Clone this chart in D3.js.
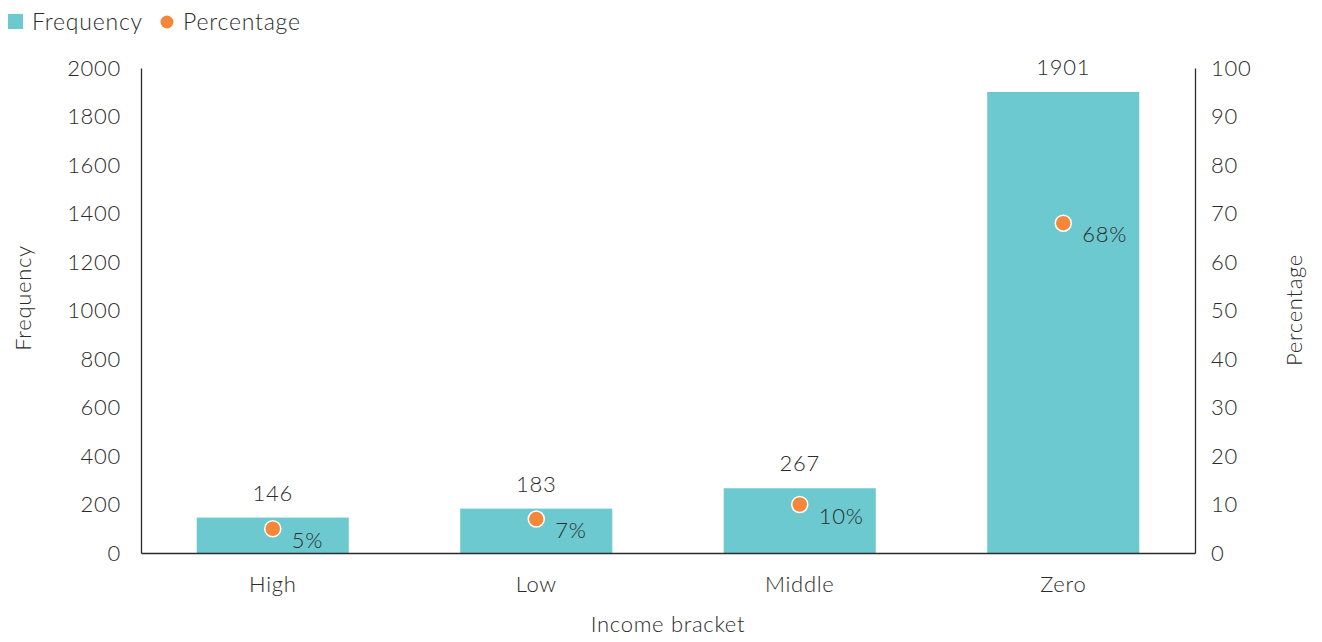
<!DOCTYPE html>
<html>
<head>
<meta charset="utf-8">
<script src="https://cdn.jsdelivr.net/npm/d3@7"></script>
<style>
  html, body { margin: 0; padding: 0; background: #fff; }
  svg text { font-family: Lato, "Open Sans", sans-serif; fill: #2b2b2b; font-weight: 300; letter-spacing: 0.7px; font-size: 22px; }
  svg .legend text { font-size: 23px; letter-spacing: 0.8px; }
</style>
</head>
<body>
<svg id="chart" width="1322" height="642"></svg>
<script>
// Income bracket breakdown: counts (bars, left axis) and share (dots, right axis)
const categories = ["High", "Low", "Middle", "Zero"];
const frequency = [146, 183, 267, 1901];
const percentage = [5, 7, 10, 68];
const freqTicks = [0, 200, 400, 600, 800, 1000, 1200, 1400, 1600, 1800, 2000];
const pctTicks = [0, 10, 20, 30, 40, 50, 60, 70, 80, 90, 100];

const BAR = "#6bc9cf";
const DOT = "#f5873a";
const INK = "#2b2b2b";

const svg = d3.select("#chart");
const plot = { left: 141, right: 1195, top: 68, bottom: 553 };

const x = d3.scaleBand().domain(categories).range([plot.left, plot.right])
  .paddingInner(0.423).paddingOuter(0.2115);
const yL = d3.scaleLinear().domain([0, 2000]).range([plot.bottom, plot.top]);
const yR = d3.scaleLinear().domain([0, 100]).range([plot.bottom, plot.top]);

const rows = categories.map((c, i) => ({ c, f: frequency[i], p: percentage[i] }));

// Bars
svg.append("g").selectAll("rect").data(rows).join("rect")
  .attr("x", d => x(d.c))
  .attr("y", d => yL(d.f))
  .attr("width", x.bandwidth())
  .attr("height", d => yL(0) - yL(d.f))
  .attr("fill", BAR);

// Left axis
const axL = svg.append("g").attr("transform", `translate(${plot.left},0)`)
  .call(d3.axisLeft(yL).tickValues(freqTicks).tickFormat(d3.format("d")).tickSize(0).tickPadding(20));
axL.select(".domain").attr("stroke", INK).attr("stroke-width", 1.3);
axL.selectAll("text").attr("fill", INK);

// Right axis
const axR = svg.append("g").attr("transform", `translate(${plot.right},0)`)
  .call(d3.axisRight(yR).tickValues(pctTicks).tickSize(0).tickPadding(16));
axR.select(".domain").attr("stroke", INK).attr("stroke-width", 1.3);
axR.selectAll("text").attr("fill", INK);

// Bottom axis
const axB = svg.append("g").attr("transform", `translate(0,${plot.bottom})`)
  .call(d3.axisBottom(x).tickSize(0).tickPadding(23));
axB.select(".domain").attr("stroke", INK).attr("stroke-width", 1.3);
axB.selectAll("text").attr("fill", INK);

// Bar value labels
svg.append("g").selectAll("text").data(rows).join("text")
  .attr("x", d => x(d.c) + x.bandwidth() / 2)
  .attr("y", d => yL(d.f) - 17)
  .attr("text-anchor", "middle")
  .text(d => d.f);

// Percentage dots
const cx = d => x(d.c) + x.bandwidth() / 2;
svg.append("g").selectAll("circle").data(rows).join("circle")
  .attr("cx", cx)
  .attr("cy", d => yR(d.p))
  .attr("r", 8)
  .attr("fill", DOT)
  .attr("stroke", "#fff")
  .attr("stroke-width", 1.5);

svg.append("g").selectAll("text").data(rows).join("text")
  .attr("x", d => cx(d) + 19)
  .attr("y", d => yR(d.p) + 19)
  .text(d => d.p + "%");

// Axis titles
svg.append("text")
  .attr("transform", `translate(31,298) rotate(-90)`)
  .attr("text-anchor", "middle")
  .text("Frequency");
svg.append("text")
  .attr("transform", `translate(1302,310) rotate(-90)`)
  .attr("text-anchor", "middle")
  .text("Percentage");
svg.append("text")
  .attr("x", (plot.left + plot.right) / 2)
  .attr("y", 632)
  .attr("text-anchor", "middle")
  .text("Income bracket");

// Legend
const lg = svg.append("g").attr("class", "legend");
lg.append("rect").attr("x", 8).attr("y", 14).attr("width", 15).attr("height", 15).attr("fill", BAR);
lg.append("text").attr("x", 32).attr("y", 30).text("Frequency");
lg.append("circle").attr("cx", 167).attr("cy", 22).attr("r", 6.5).attr("fill", DOT);
lg.append("text").attr("x", 183).attr("y", 30).text("Percentage");
</script>
</body>
</html>
